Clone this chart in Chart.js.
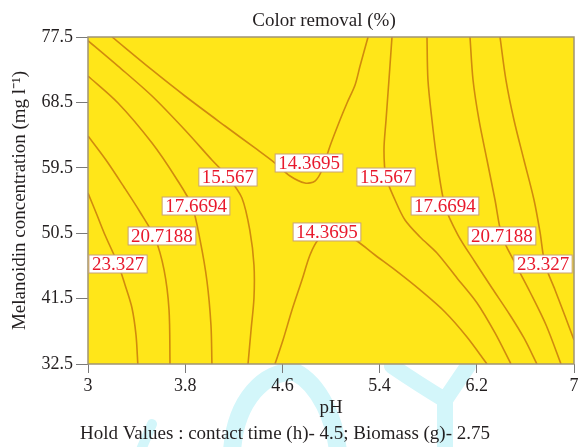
<!DOCTYPE html>
<html>
<head>
<meta charset="utf-8">
<script src="https://cdn.jsdelivr.net/npm/chart.js@4.4.1/dist/chart.umd.min.js"></script>
<style>
html, body { margin: 0; padding: 0; background: #fff; }
</style>
</head>
<body>
<canvas id="contour" width="578" height="447"></canvas>
<script>
// axis ticks
const xTicks = [3, 3.8, 4.6, 5.4, 6.2, 7];
const yTicks = [32.5, 41.5, 50.5, 59.5, 68.5, 77.5];

// contour lines, [pH, melanoidin]
const c14Upper = [[3.198,77.5],[3.527,72.96],[3.798,69.38],[4.128,65.25],[4.374,62.23],[4.539,60.16],[4.663,58.37],[4.786,57.41],[4.868,57.68],[4.926,59.2],[4.992,62.5],[5.074,66.08],[5.132,68.42],[5.198,70.9],[5.239,73.5],[5.305,77.5]];
const c14Lower = [[4.539,32.5],[4.605,35.8],[4.679,39.93],[4.761,44.06],[4.827,47.5],[4.893,49.57],[4.992,50.67],[5.115,50.25],[5.214,49.43],[5.362,47.5],[5.527,45.44],[5.733,42.69],[5.938,39.66],[6.119,36.22],[6.284,32.5]];
const c15Left = [[3.0,77.0],[3.247,73.5],[3.527,69.38],[3.798,64.7],[4.02,60.57],[4.152,58.23],[4.267,55.34],[4.333,50.8],[4.366,46.12],[4.366,41.58],[4.342,37.18],[4.317,32.5]];
const c15Right = [[5.502,77.5],[5.477,71.58],[5.453,66.08],[5.436,61.95],[5.453,58.23],[5.527,55.07],[5.609,52.32],[5.733,49.98],[5.872,47.78],[6.037,44.34],[6.202,40.9],[6.35,36.77],[6.481,32.5]];
const c17Left = [[3.0,72.13],[3.247,68.42],[3.527,62.91],[3.724,58.1],[3.856,54.24],[3.922,49.57],[3.979,43.92],[4.012,37.87],[4.02,32.5]];
const c17Right = [[5.79,77.5],[5.798,71.58],[5.831,66.08],[5.872,60.57],[5.938,54.24],[6.045,50.25],[6.185,46.54],[6.325,42.96],[6.473,39.25],[6.588,36.08],[6.695,32.5]];
const c20Left = [[3.0,63.88],[3.148,60.57],[3.296,56.86],[3.428,53.42],[3.551,49.84],[3.626,45.44],[3.667,39.93],[3.675,32.5]];
const c20Right = [[6.144,77.5],[6.169,71.58],[6.218,66.08],[6.284,60.57],[6.35,55.07],[6.407,50.12],[6.514,46.4],[6.638,42.41],[6.77,37.87],[6.893,32.5]];
const c23Left = [[3.0,56.03],[3.074,53.0],[3.14,50.25],[3.247,46.26],[3.305,43.37],[3.362,40.21],[3.395,36.5],[3.41,32.5]];
const c23Right = [[6.391,77.5],[6.44,71.58],[6.506,66.08],[6.588,60.57],[6.671,55.07],[6.72,50.67],[6.761,46.26],[6.844,42.69],[6.926,39.11],[7.0,35.8]];

// contour labels
const labelText = ['14.3695','14.3695','15.567','15.567','17.6694','17.6694','20.7188','20.7188','23.327','23.327'];
const labelX = [4.819, 4.967, 4.152, 5.453, 3.889, 5.938, 3.609, 6.407, 3.247, 6.745];
const labelY = [60.16, 50.67, 58.23, 58.23, 54.24, 54.24, 50.12, 50.12, 46.26, 46.26];

const lines = [c14Upper, c14Lower, c15Left, c15Right, c17Left, c17Right, c20Left, c20Right, c23Left, c23Right];

const SERIF = '"Liberation Serif", "Times New Roman", serif';
const INK = '#231f20';

const watermark = {
  id: 'watermark',
  beforeDraw(chart) {
    const ctx = chart.ctx;
    ctx.save();
    ctx.strokeStyle = '#d3f6fa';
    ctx.lineCap = 'round';
    ctx.lineWidth = 10;
    ctx.beginPath();
    ctx.moveTo(140, 452); ctx.lineTo(152, 424);
    ctx.stroke();
    ctx.lineWidth = 18;
    ctx.beginPath();
    ctx.moveTo(232, 452);
    ctx.bezierCurveTo(235, 400, 265, 370, 295, 372);
    ctx.bezierCurveTo(320, 385, 335, 420, 338, 452);
    ctx.stroke();
    ctx.lineWidth = 16;
    ctx.beginPath();
    ctx.moveTo(392, 366);
    ctx.quadraticCurveTo(420, 385, 445, 400);
    ctx.quadraticCurveTo(455, 385, 468, 366);
    ctx.moveTo(445, 400);
    ctx.lineTo(445, 452);
    ctx.stroke();
    ctx.restore();
  }
};

const plotBg = {
  id: 'plotBg',
  beforeDatasetsDraw(chart) {
    const {ctx, chartArea: a} = chart;
    ctx.save();
    ctx.fillStyle = '#ffe619';
    ctx.fillRect(a.left, a.top, a.right - a.left, a.bottom - a.top);
    ctx.restore();
  },
  afterDatasetsDraw(chart) {
    const {ctx, chartArea: a, scales} = chart;
    ctx.save();
    ctx.strokeStyle = '#a09474';
    ctx.lineWidth = 1.5;
    ctx.strokeRect(a.left, a.top, a.right - a.left, a.bottom - a.top);
    ctx.font = '19px ' + SERIF;
    ctx.textAlign = 'center';
    ctx.textBaseline = 'middle';
    labelText.forEach((t, i) => {
      const px = scales.x.getPixelForValue(labelX[i]);
      const py = scales.y.getPixelForValue(labelY[i]);
      const w = ctx.measureText(t).width + 6;
      const h = 18;
      ctx.fillStyle = '#ffffff';
      ctx.fillRect(px - w / 2, py - h / 2, w, h);
      ctx.strokeStyle = '#c9a274';
      ctx.lineWidth = 1;
      ctx.strokeRect(px - w / 2, py - h / 2, w, h);
      ctx.fillStyle = '#e8192c';
      ctx.fillText(t, px, py + 1);
    });
    ctx.restore();
  }
};

const extraText = {
  id: 'extraText',
  afterDraw(chart) {
    const ctx = chart.ctx;
    ctx.save();
    ctx.fillStyle = INK;
    ctx.textAlign = 'center';
    ctx.textBaseline = 'middle';
    ctx.font = '19px ' + SERIF;
    ctx.fillText('Color removal (%)', 324, 21);
    ctx.fillText('Hold Values : contact time (h)- 4.5; Biomass (g)- 2.75', 285, 434);
    ctx.restore();
  }
};

new Chart(document.getElementById('contour'), {
  type: 'scatter',
  data: {
    datasets: lines.map(l => ({
      data: l.map(p => ({x: p[0], y: p[1]})),
      showLine: true,
      borderColor: '#d18a0e',
      borderWidth: 1.6,
      pointRadius: 0,
      tension: 0.3
    }))
  },
  options: {
    responsive: false,
    animation: false,
    layout: { padding: { top: 37, right: 4, left: 0, bottom: 0 } },
    plugins: { legend: { display: false }, tooltip: { enabled: false } },
    scales: {
      x: {
        type: 'linear', min: 3, max: 7,
        afterBuildTicks: s => { s.ticks = xTicks.map(v => ({value: v})); },
        afterFit: s => { s.height = 83; s.paddingLeft = 0; s.paddingRight = 0; },
        ticks: { font: { family: SERIF, size: 18 }, color: INK, padding: 2, maxRotation: 0,
                 callback: v => String(v) },
        grid: { drawOnChartArea: false, tickLength: 9, color: '#7a7a7a' },
        border: { display: false },
        title: { display: true, text: 'pH', font: { family: SERIF, size: 19 }, color: INK,
                 padding: { top: 0, bottom: 28 } }
      },
      y: {
        type: 'linear', min: 32.5, max: 77.5,
        afterBuildTicks: s => { s.ticks = yTicks.map(v => ({value: v})); },
        afterFit: s => { s.width = 88; s.paddingTop = 0; s.paddingBottom = 0; },
        ticks: { font: { family: SERIF, size: 18 }, color: INK, padding: 3,
                 callback: v => String(v) },
        grid: { drawOnChartArea: false, tickLength: 12, color: '#7a7a7a' },
        border: { display: false },
        title: { display: true, text: 'Melanoidin concentration (mg l⁻¹)', font: { family: SERIF, size: 19 }, color: INK,
                 padding: { top: 9, bottom: 0 } }
      }
    }
  },
  plugins: [watermark, plotBg, extraText]
});
</script>
</body>
</html>
